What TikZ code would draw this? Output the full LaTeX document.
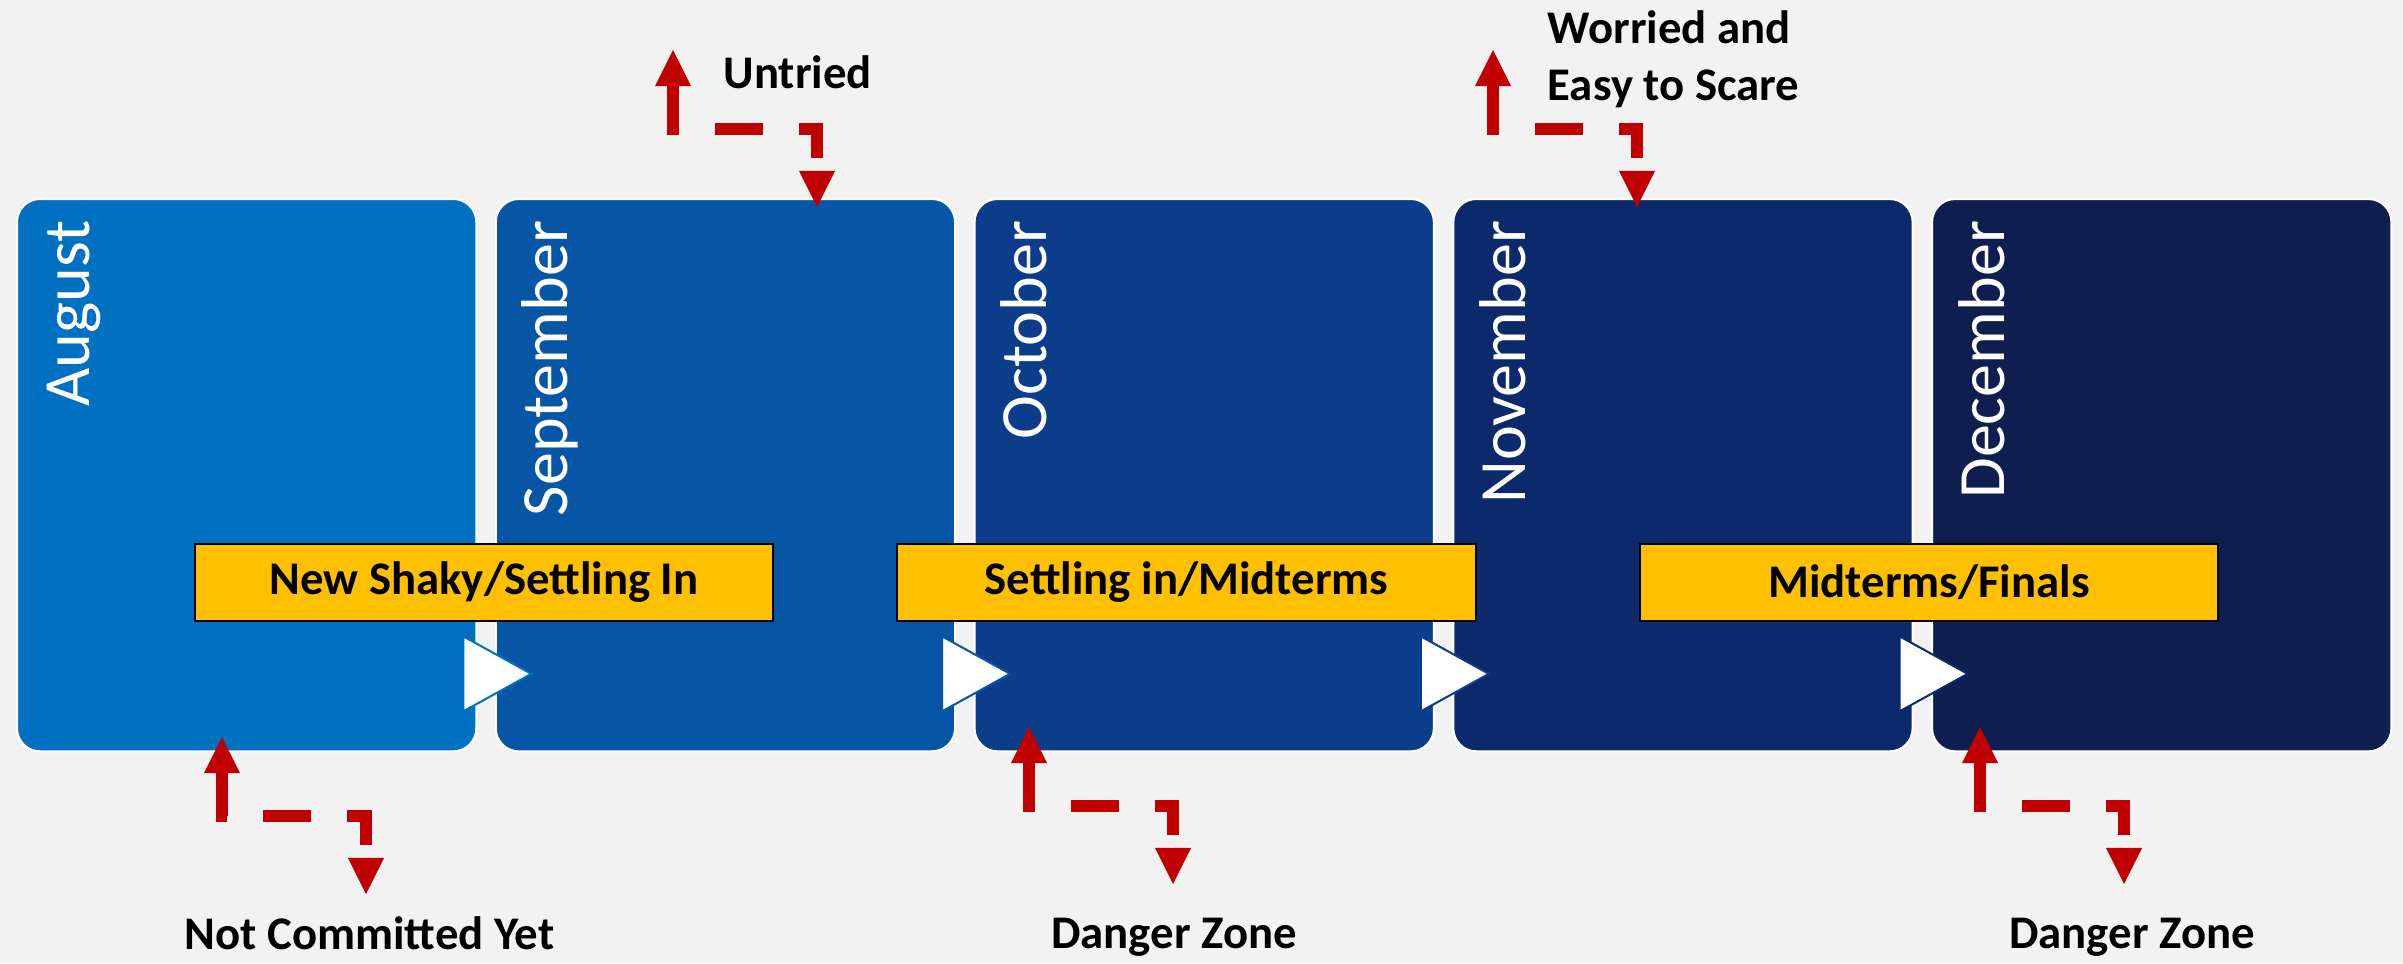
\documentclass[tikz,border=0pt]{standalone}
\usepackage{fontspec}
\setmainfont{Carlito}
\usetikzlibrary{positioning, arrows.meta, calc}

\definecolor{bgray}{HTML}{F2F2F2}
\definecolor{aug}{HTML}{0070C0}
\definecolor{sep}{HTML}{0756A6}
\definecolor{oct}{HTML}{0B3D8A}
\definecolor{nov}{HTML}{0C2A6B}
\definecolor{dec}{HTML}{0E1E50}
\definecolor{amber}{HTML}{FFC000}
\definecolor{darkred}{HTML}{C00000}

\begin{document}
\begin{tikzpicture}[x=0.01cm, y=-0.01cm,
    month/.style={rounded corners=0.23cm, draw=white, line width=0.02cm,
      minimum width=4.59cm, minimum height=5.52cm, inner sep=0},
    monthname/.style={rotate=90, anchor=base east, inner sep=0, text=white,
      font=\fontsize{18.8pt}{22pt}\selectfont},
    termbar/.style={fill=amber, draw=black, line width=0.02cm, minimum width=5.78cm,
      minimum height=0.77cm, inner sep=0, font=\fontsize{13.3pt}{16.2pt}\selectfont\bfseries},
    lbl/.style={inner sep=0, font=\fontsize{13.3pt}{16.2pt}\selectfont\bfseries},
    flow/.style={draw=darkred, line width=0.12cm, dash pattern=on 0.48cm off 0.36cm,
      >={Triangle[length=0.36cm, width=0.36cm, line width=0pt]}, <->}]
    \fill[bgray] (0,0) rectangle (2403,963);
    \useasboundingbox (0,0) rectangle (2403,963);

    % months
    \node [month, fill=aug, anchor=north west] (aug) at (16,198) {};
    \node [month, fill=sep, right=0.175cm of aug] (sep) {};
    \node [month, fill=oct, right=0.175cm of sep] (oct) {};
    \node [month, fill=nov, right=0.175cm of oct] (nov) {};
    \node [month, fill=dec, right=0.175cm of nov] (dec) {};
    \foreach \m/\t in {aug/August, sep/September, oct/October, nov/November, dec/December}
      \node [monthname] (\m-name) at ($(\m.north west)+(73,22)$) {\t};

    % chevrons between months
    \foreach \m in {aug, sep, oct, nov}
      \filldraw [fill=white, draw=\m, line width=0.02cm]
        ($(\m.south east)+(-14,-116)$) -- ($(\m.south east)+(54,-78.5)$)
        -- ($(\m.south east)+(-14,-41)$) -- cycle;

    % terms
    \node [termbar] (term1) at (484,582.5) {New Shaky/Settling In};
    \node [termbar] (term2) at (1186.5,582.5) {Settling in/Midterms};
    \node [termbar] (term3) at (1929,582.5) {Midterms/Finals};

    % moods
    \coordinate (untried-up) at (673,50);
    \coordinate (untried-dn) at (817,207);
    \draw [flow] (untried-up) -- ++(0,78.5) -| (untried-dn);
    \node [lbl, anchor=base west] (untried) at (723,88) {Untried};

    \coordinate (worried-up) at (1493,50);
    \coordinate (worried-dn) at (1637,207);
    \draw [flow] (worried-up) -- ++(0,78.5) -| (worried-dn);
    \node [lbl, anchor=base west, align=left] (worried) at (1547,100) {Worried and\\Easy to Scare};

    \coordinate (commit-up) at (222,737);
    \coordinate (commit-dn) at (366,894);
    \draw [flow] (commit-up) -- ++(0,79) -| (commit-dn);
    \node [lbl, anchor=base] (commit) at (369.5,949) {Not Committed Yet};

    \coordinate (danger1-up) at (1029,727);
    \coordinate (danger1-dn) at (1173,884);
    \draw [flow] (danger1-up) -- ++(0,78.5) -| (danger1-dn);
    \node [lbl, anchor=base] (danger1) at (1174,948) {Danger Zone};

    \coordinate (danger2-up) at (1980,727);
    \coordinate (danger2-dn) at (2124,884);
    \draw [flow] (danger2-up) -- ++(0,78.5) -| (danger2-dn);
    \node [lbl, anchor=base] (danger2) at (2132,948) {Danger Zone};
  \end{tikzpicture}
\end{document}
